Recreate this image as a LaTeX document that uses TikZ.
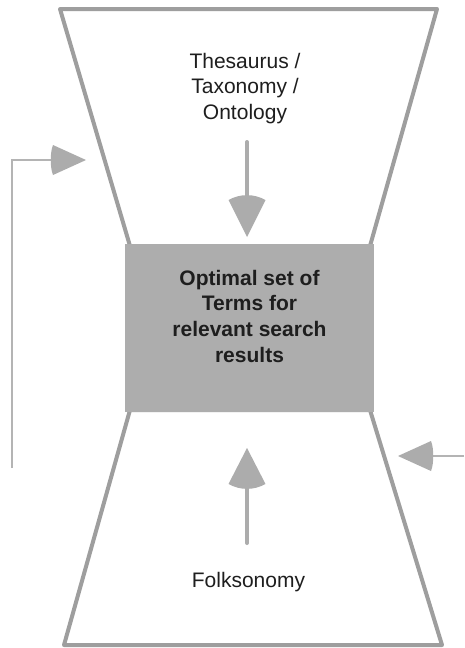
\documentclass[tikz,border=0pt]{standalone}
\usepackage{fontspec}
\setmainfont{Liberation Sans}
\begin{document}
\begin{tikzpicture}[x=1pt,y=-1pt,
  funnel/.style={draw=funnelgray,line width=4pt,line join=round,fill=white},
  termbox/.style={fill=boxgray,inner sep=0pt,minimum width=249pt,minimum height=168pt},
  lbl/.style={font=\fontsize{21}{25.6}\selectfont,text=inkgray,align=center,inner sep=0pt},
  shaft/.style={draw=arrowgray,line width=4pt,line cap=round},
  head/.style={fill=arrowgray},
  feedback/.style={draw=linegray,line width=1.6pt}]
\definecolor{funnelgray}{HTML}{9E9E9E}
\definecolor{boxgray}{HTML}{ADADAD}
\definecolor{arrowgray}{HTML}{ACACAC}
\definecolor{linegray}{HTML}{B4B4B4}
\definecolor{inkgray}{HTML}{1E1E1E}
\useasboundingbox (0,0) rectangle (464,648);

% upper and lower halves of the funnel
\draw[funnel] (60,9) -- (437,9) -- (370,246) -- (130,246) -- cycle;
\draw[funnel] (130,410) -- (370,410) -- (442,645) -- (64,645) -- cycle;

% central box (the base anchor of a multi-line label is its last baseline)
\node[termbox] (terms) at (249.5,328) {};
\node[lbl,font=\fontsize{21}{25.6}\selectfont\bfseries,anchor=base] (termstext) at (249.5,362)
  {Optimal set of\\Terms for\\relevant search\\results};

% labels
\node[lbl,anchor=base] (top) at (245,119.5) {Thesaurus /\\Taxonomy /\\Ontology};
\node[lbl,anchor=base] (bottom) at (248.5,587) {Folksonomy};

% arrow from the top source into the box
\coordinate (downstart) at (247,142);
\coordinate (downbase) at (247,198);
\draw[shaft] (downstart) -- (downbase);
\fill[head] (247,237) -- (228.5,200) .. controls (240,193.5) and (254,193.5) .. (265.5,200) -- cycle;

% arrow from the bottom source into the box
\coordinate (upstart) at (247,543);
\coordinate (upbase) at (247,486);
\draw[shaft] (upstart) -- (upbase);
\fill[head] (247,448) -- (228.5,484) .. controls (240,490.5) and (254,490.5) .. (265.5,484) -- cycle;

% feedback loops at the sides
\coordinate (loopend) at (12,468);
\coordinate (loopcorner) at (12,160);
\coordinate (loophead) at (53,160);
\draw[feedback] (loopend) -- (loopcorner) -- (loophead);
\fill[head] (86,160) -- (53,145) .. controls (50,152) and (50,168) .. (53,175) -- cycle;

\coordinate (rightstart) at (464,456);
\coordinate (righthead) at (431,456);
\draw[feedback] (rightstart) -- (righthead);
\fill[head] (398,456) -- (431,441) .. controls (434,448) and (434,464) .. (431,471) -- cycle;
\end{tikzpicture}
\end{document}
